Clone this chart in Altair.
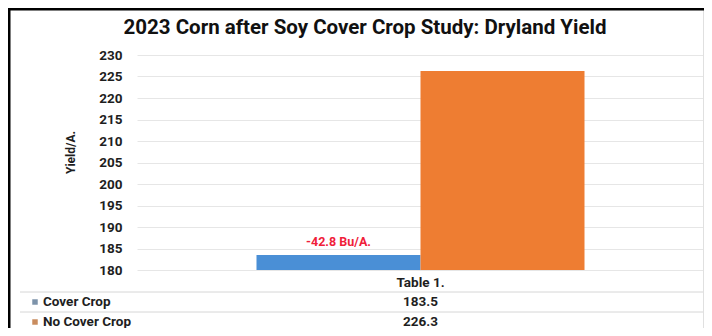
import altair as alt
import pandas as pd

# ---- data ----
group = "Table 1."
series = ["Cover Crop", "No Cover Crop"]
yields = [183.5, 226.3]
bar_colors = ["#4a8fd6", "#ee7d32"]
swatch_colors = ["#7d93aa", "#c98c5e"]
y_ticks = [180, 185, 190, 195, 200, 205, 210, 215, 220, 225, 230]
title_text = "2023 Corn after Soy Cover Crop Study: Dryland Yield"
y_title = "Yield/A."
diff_text = "-42.8 Bu/A."

df = pd.DataFrame({
    "group": [group] * len(series),
    "series": series,
    "yield": yields,
    "label": [f"{v:.1f}" for v in yields],
})

W, H = 567, 215
FONT = "Roboto"
TXT = "#1e1e1e"

x_axis = alt.Axis(title=None, labelAngle=0, ticks=False, domain=False, grid=False,
                  labelFont=FONT, labelFontSize=13.5, labelFontWeight="bold",
                  labelColor=TXT, labelPadding=5)
x_scale = alt.Scale(paddingInner=0, paddingOuter=0.3643)
x_enc = alt.X("group:N", scale=x_scale, axis=x_axis)
xoff_enc = alt.XOffset("series:N", sort=series,
                       scale=alt.Scale(paddingInner=0, paddingOuter=0))
y_axis = alt.Axis(values=y_ticks, ticks=False, domain=False, grid=True,
                  labelOverlap=False,
                  gridColor="#e6e6e6", gridWidth=1,
                  labelFont=FONT, labelFontSize=13.5, labelFontWeight="bold",
                  labelColor=TXT, labelPadding=15,
                  title=y_title, titleFont=FONT, titleFontSize=12,
                  titleFontWeight="bold", titleColor=TXT,
                  titleX=-67, titleY=97, titleAngle=270,
                  titleAlign="center", titleBaseline="middle")
y_enc = alt.Y("yield:Q", scale=alt.Scale(domain=[180, 230], zero=False, nice=False),
              axis=y_axis)

bars = alt.Chart(df).mark_bar().encode(
    x=x_enc,
    xOffset=xoff_enc,
    y=y_enc,
    y2=alt.datum(180),
    color=alt.Color("series:N", scale=alt.Scale(domain=series, range=bar_colors), legend=None),
)

ann_df = pd.DataFrame({"group": [group], "series": [series[0]],
                       "yield": [yields[0]], "text": [diff_text]})
ann = alt.Chart(ann_df).mark_text(
    dy=-13, color="#f0203a", fontWeight="bold", fontSize=12.5, font=FONT
).encode(
    x=x_enc,
    xOffset=xoff_enc,
    y=y_enc,
    text="text:N",
)

title = alt.Chart(pd.DataFrame({"t": [title_text]})).mark_text(
    font=FONT, fontSize=20.5, fontWeight="bold", color="#111", align="center", baseline="middle"
).encode(x=alt.value(228), y=alt.value(-27), text="t:N")

layers = [bars, ann, title]

# table rows
row_y = [247, 267]
for i, s in enumerate(series):
    rdf = df.iloc[[i]]
    layers.append(
        alt.Chart(rdf).mark_square(size=30, filled=True, opacity=1, color=swatch_colors[i])
        .encode(x=alt.value(-102), y=alt.value(row_y[i]))
    )
    layers.append(
        alt.Chart(rdf).mark_text(font=FONT, fontSize=13.5, fontWeight="bold", color=TXT,
                                 align="left", baseline="middle")
        .encode(x=alt.value(-94), y=alt.value(row_y[i]), text="series:N")
    )
    layers.append(
        alt.Chart(rdf).mark_text(font=FONT, fontSize=13.5, fontWeight="bold", color=TXT,
                                 align="center", baseline="middle")
        .encode(x=x_enc, y=alt.value(row_y[i]), text="label:N")
    )

# table separator lines
for yy in [237, 257]:
    layers.append(
        alt.Chart(df.iloc[[0]]).mark_rule(color="#d6d6d6", strokeWidth=1)
        .encode(x=alt.value(-117), x2=alt.value(W), y=alt.value(yy))
    )

# right faint frame line
layers.append(
    alt.Chart(df.iloc[[0]]).mark_rule(color="#e0e0e0", strokeWidth=1)
    .encode(x=alt.value(W - 0.5), y=alt.value(-45), y2=alt.value(280))
)

# black image border (left, top)
layers.append(
    alt.Chart(df.iloc[[0]]).mark_rule(color="#000", strokeWidth=3)
    .encode(x=alt.value(-128), y=alt.value(-48), y2=alt.value(290))
)
layers.append(
    alt.Chart(df.iloc[[0]]).mark_rule(color="#000", strokeWidth=3)
    .encode(x=alt.value(-130), x2=alt.value(600), y=alt.value(-46))
)

chart = alt.layer(*layers).properties(
    width=W,
    height=H,
    padding={"left": 129, "top": 47, "right": 0, "bottom": 58},
    autosize=alt.AutoSizeParams(type="none"),
    background="white",
).configure_view(stroke=None)

chart.save("out.html", embed_options={"renderer": "svg", "actions": False})
